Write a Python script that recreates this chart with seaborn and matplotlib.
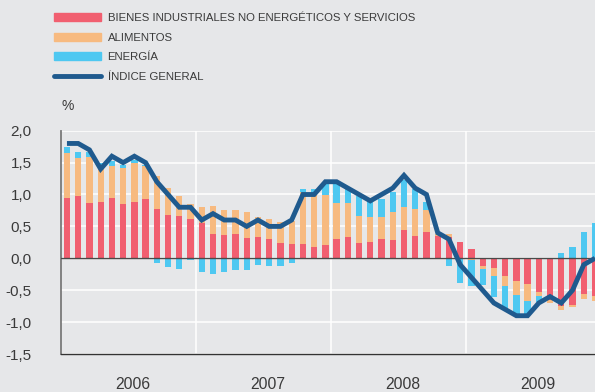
import numpy as np
import pandas as pd
import matplotlib
matplotlib.use("Agg")
import matplotlib.pyplot as plt
from matplotlib.patches import Patch
from matplotlib.lines import Line2D
from matplotlib.transforms import blended_transform_factory
import seaborn as sns

# Contribuciones mensuales (puntos porcentuales), enero 2006 - diciembre 2009
bienes = [0.95, 0.97, 0.87, 0.89, 0.95, 0.85, 0.89, 0.93, 0.78, 0.68, 0.66, 0.62,
          0.56, 0.38, 0.37, 0.38, 0.32, 0.33, 0.30, 0.245, 0.225, 0.225, 0.18, 0.21,
          0.30, 0.33, 0.245, 0.26, 0.30, 0.29, 0.44, 0.35, 0.41, 0.355, 0.34, 0.25,
          0.14, -0.125, -0.15, -0.277, -0.355, -0.41, -0.53, -0.66, -0.75, -0.73, -0.565, -0.59]
alimentos = [0.70, 0.60, 0.72, 0.51, 0.50, 0.57, 0.61, 0.51, 0.51, 0.42, 0.32, 0.23,
             0.24, 0.44, 0.38, 0.37, 0.40, 0.31, 0.31, 0.325, 0.355, 0.81, 0.84, 0.78,
             0.56, 0.53, 0.415, 0.39, 0.34, 0.44, 0.36, 0.42, 0.35, 0.025, 0.04, 0.0,
             -0.02, -0.045, -0.13, -0.157, -0.22, -0.26, -0.065, -0.035, -0.06, -0.04, -0.075, -0.08]
energia = [0.10, 0.10, 0.08, 0.10, 0.08, 0.04, 0.04, 0.03, -0.07, -0.14, -0.17, -0.03,
           -0.21, -0.245, -0.21, -0.18, -0.18, -0.11, -0.12, -0.12, -0.07, 0.05, 0.06, 0.17,
           0.30, 0.26, 0.31, 0.27, 0.29, 0.31, 0.43, 0.31, 0.13, -0.015, -0.115, -0.39,
           -0.41, -0.25, -0.33, -0.35, -0.295, -0.20, -0.095, 0.0, 0.08, 0.18, 0.42, 0.55]
indice = [1.8, 1.8, 1.7, 1.4, 1.6, 1.5, 1.6, 1.5, 1.2, 1.0, 0.8, 0.8,
          0.6, 0.7, 0.6, 0.6, 0.5, 0.6, 0.5, 0.5, 0.6, 1.0, 1.0, 1.2,
          1.2, 1.1, 1.0, 0.9, 1.0, 1.1, 1.3, 1.1, 1.0, 0.4, 0.3, -0.1,
          -0.3, -0.5, -0.7, -0.8, -0.9, -0.9, -0.7, -0.6, -0.7, -0.5, -0.1, 0.0]
years = ["2006", "2007", "2008", "2009"]
labels = ["BIENES INDUSTRIALES NO ENERGÉTICOS Y SERVICIOS", "ALIMENTOS",
          "ENERGÍA", "ÍNDICE GENERAL"]

RED, ORANGE, BLUE, NAVY = "#F15F70", "#F7BA80", "#4EC8F1", "#1F5A8E"
BG = "#E6E7E9"
TXT = "#3A3A3A"

sns.set_theme(style="white")
plt.rcParams["font.family"] = ["Liberation Sans", "DejaVu Sans"]

n = len(indice)
idx = np.arange(n)
r = np.array(bienes); o = np.array(alimentos); b = np.array(energia)

# Positive parts stack upward, negative parts stack downward (red, orange, blue)
p1 = np.clip(r, 0, None); p2 = p1 + np.clip(o, 0, None); p3 = p2 + np.clip(b, 0, None)
n1 = np.clip(r, None, 0); n2 = n1 + np.clip(o, None, 0); n3 = n2 + np.clip(b, None, 0)

fig = plt.figure(figsize=(5.95, 3.92), dpi=100, facecolor=BG)
ax = fig.add_axes([61 / 595, 1 - 354 / 392, 1 - 61 / 595, (354 - 130.7) / 392])
ax.set_facecolor(BG)

for level, col in [(p3, BLUE), (p2, ORANGE), (p1, RED), (n3, BLUE), (n2, ORANGE), (n1, RED)]:
    sns.barplot(x=idx, y=level, color=col, saturation=1, width=0.56,
                linewidth=0, errorbar=None, ax=ax, zorder=3)

ax.axhline(0, color="#4A4A4A", lw=1.0, zorder=4)
sns.lineplot(x=idx, y=indice, color=NAVY, lw=3.5, ax=ax, zorder=5,
             solid_joinstyle="miter", solid_capstyle="butt")

ax.set_xlim(-0.53, 47.0)
ax.set_ylim(-1.5, 2.0)
yt = np.arange(-1.5, 2.01, 0.5)
ax.set_yticks(yt)
ax.set_yticklabels([f"{v:.1f}".replace(".", ",") for v in yt], fontsize=11, color=TXT)
ax.set_xticks([11.5, 23.5, 35.5])
ax.set_xticklabels([])
ax.tick_params(axis="both", length=0)
ax.tick_params(axis="y", pad=21)
ax.grid(True, color="white", lw=1.1, zorder=0)
ax.set_axisbelow(True)
ax.set_xlabel(""); ax.set_ylabel("")

for s in ["top", "right"]:
    ax.spines[s].set_visible(False)
ax.spines["left"].set_color("#7A7A7A"); ax.spines["left"].set_linewidth(1.3)
ax.spines["bottom"].set_color("#333333"); ax.spines["bottom"].set_linewidth(1.0)

# Year labels centred under each twelve-month block
year_tr = blended_transform_factory(ax.transData, fig.transFigure)
for k, y in enumerate(years):
    ax.text(12 * k + 5.9, 1 - 384.5 / 392, y, transform=year_tr,
            ha="center", va="center", fontsize=11.3, color=TXT)

fig.text(62 / 595, 1 - 106 / 392, "%", ha="left", va="center", fontsize=10, color=TXT)

handles = [Patch(color=RED), Patch(color=ORANGE), Patch(color=BLUE),
           Line2D([0], [0], color=NAVY, lw=3.5)]
fig.legend(handles, labels, loc="upper left", bbox_to_anchor=(54 / 595, 1 - 13 / 392),
           frameon=False, handlelength=4.15, handleheight=0.72, handletextpad=0.55,
           labelspacing=0.84, borderaxespad=0, borderpad=0,
           prop={"family": "Liberation Sans", "size": 8.2}, labelcolor=TXT)

fig.savefig("out.png", dpi=100, facecolor=BG)
